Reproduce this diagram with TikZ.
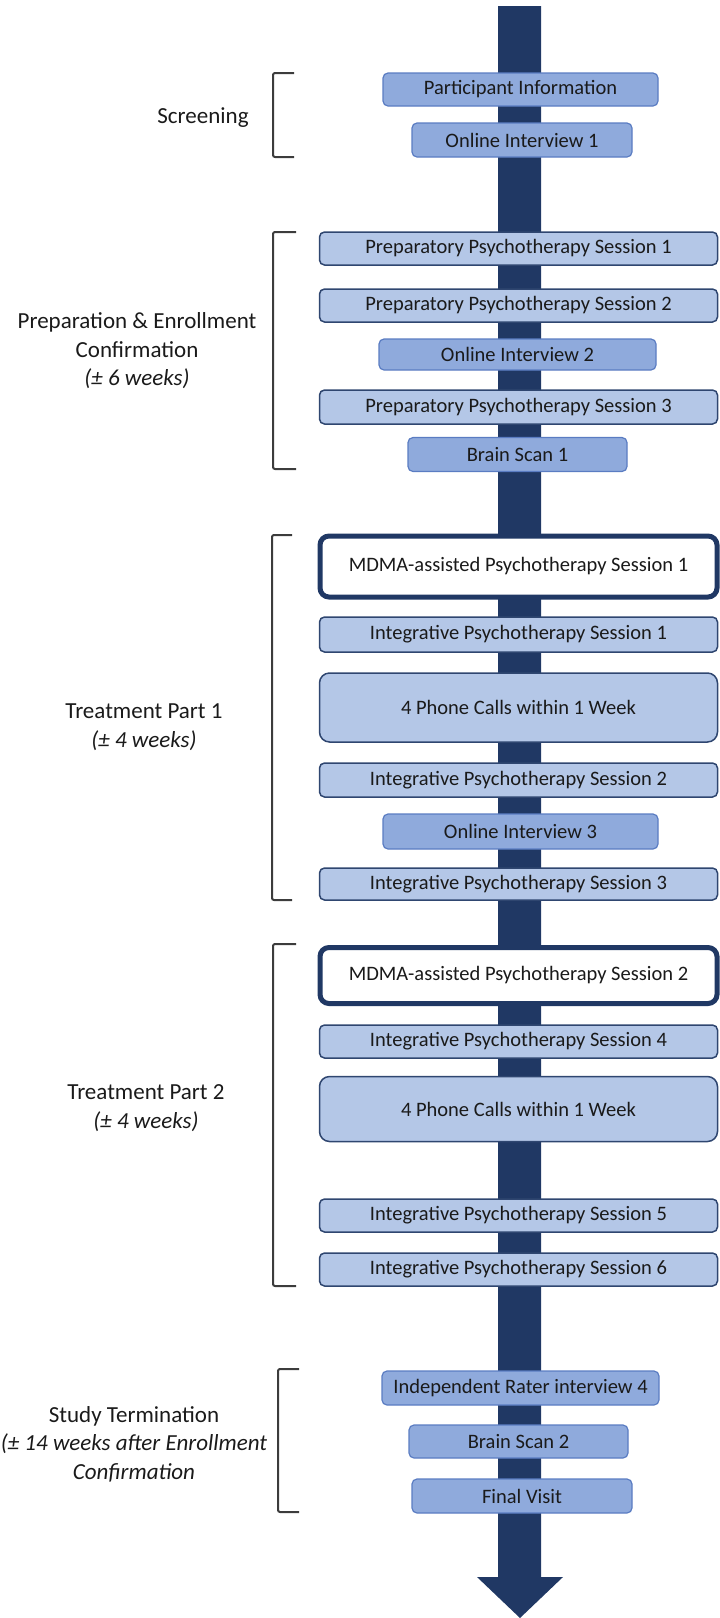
\documentclass[tikz,border=0pt]{standalone}
\usepackage{fontspec}
\setmainfont{Carlito}
\definecolor{navy}{HTML}{203864}
\definecolor{lightfill}{HTML}{B4C7E7}
\definecolor{darkfill}{HTML}{8FAADC}
\definecolor{lightedge}{HTML}{2F4670}
\definecolor{darkedge}{HTML}{5A7CC2}
\definecolor{txt}{HTML}{1A1A1A}
\definecolor{brk}{HTML}{3C3C3C}
\tikzset{
  every node/.style={text=txt},
  boxbase/.style={rounded corners=5pt, inner sep=0pt, font=\fontsize{20.5}{24}\selectfont},
  lightbox/.style={boxbase, fill=lightfill, draw=lightedge, line width=1.5pt},
  darkbox/.style={boxbase, fill=darkfill, draw=darkedge, line width=1.2pt},
  mdmabox/.style={boxbase, fill=white, draw=navy, line width=5pt, rounded corners=9pt},
  phonebox/.style={lightbox, rounded corners=10pt},
  grouplabel/.style={align=center, inner sep=0pt, font=\fontsize{23}{28.5}\selectfont},
  bracket/.style={draw=brk, line width=2pt, rounded corners=2pt}
}
\begin{document}
\begin{tikzpicture}[x=1pt, y=-1pt]
\useasboundingbox (0,0) rectangle (720,1618);
% timeline arrow
\fill[navy] (498,6) -- (541,6) -- (541,1577) -- (563,1577) -- (520,1618) -- (477,1577) -- (498,1577) -- cycle;

% Screening
\node[darkbox, minimum width=275, minimum height=33] (pi) at (520.5,89.5) {Participant Information};
\node[darkbox, minimum width=220, minimum height=34] (oi1) at (522,140) {Online Interview 1};
\draw[bracket] (294,73) -- (273,73) -- (273,157) -- (294,157);
\node[grouplabel] (lscr) at (203,118) {Screening};

% Preparation
\node[lightbox, minimum width=398, minimum height=33] (pp1) at (518.5,248.5) {Preparatory Psychotherapy Session 1};
\node[lightbox, minimum width=398, minimum height=33] (pp2) at (518.5,305.5) {Preparatory Psychotherapy Session 2};
\node[darkbox, minimum width=277, minimum height=31] (oi2) at (517.5,354.5) {Online Interview 2};
\node[lightbox, minimum width=398, minimum height=34] (pp3) at (518.5,407) {Preparatory Psychotherapy Session 3};
\node[darkbox, minimum width=219, minimum height=34] (bs1) at (517.5,454.5) {Brain Scan 1};
\draw[bracket] (296,232) -- (273,232) -- (273,469) -- (296,469);
\node[grouplabel] (lprep) at (137,351) {Preparation \& Enrollment\\Confirmation\\\textit{(± 6 weeks)}};

% Treatment Part 1
\node[mdmabox, minimum width=397, minimum height=61] (m1) at (518.5,566.5) {MDMA-assisted Psychotherapy Session 1};
\node[lightbox, minimum width=398, minimum height=35] (ip1) at (518.5,634.5) {Integrative Psychotherapy Session 1};
\node[phonebox, minimum width=398, minimum height=69] (ph1) at (518.5,707.5) {4 Phone Calls within 1 Week};
\node[lightbox, minimum width=398, minimum height=34] (ip2) at (518.5,780) {Integrative Psychotherapy Session 2};
\node[darkbox, minimum width=275, minimum height=35] (oi3) at (520.5,831.5) {Online Interview 3};
\node[lightbox, minimum width=398, minimum height=32] (ip3) at (518.5,884) {Integrative Psychotherapy Session 3};
\draw[bracket] (292,535) -- (272,535) -- (272,900) -- (292,900);
\node[grouplabel] (lt1) at (144,727) {Treatment Part 1\\\textit{(± 4 weeks)}};

% Treatment Part 2
\node[mdmabox, minimum width=397, minimum height=56] (m2) at (518.5,975.5) {MDMA-assisted Psychotherapy Session 2};
\node[lightbox, minimum width=398, minimum height=33] (ip4) at (518.5,1041.5) {Integrative Psychotherapy Session 4};
\node[phonebox, minimum width=398, minimum height=65] (ph2) at (518.5,1109) {4 Phone Calls within 1 Week};
\node[lightbox, minimum width=398, minimum height=33] (ip5) at (518.5,1215.5) {Integrative Psychotherapy Session 5};
\node[lightbox, minimum width=398, minimum height=33] (ip6) at (518.5,1269.5) {Integrative Psychotherapy Session 6};
\draw[bracket] (296,944) -- (273,944) -- (273,1286) -- (296,1286);
\node[grouplabel] (lt2) at (146,1108) {Treatment Part 2\\\textit{(± 4 weeks)}};

% Study Termination
\node[darkbox, minimum width=277, minimum height=34] (ir4) at (520.5,1388) {Independent Rater interview 4};
\node[darkbox, minimum width=219, minimum height=33] (bs2) at (518.5,1441.5) {Brain Scan 2};
\node[darkbox, minimum width=220, minimum height=34] (fv) at (522,1496) {Final Visit};
\draw[bracket] (299,1369) -- (278,1369) -- (278,1512) -- (299,1512);
\node[grouplabel] (lst) at (134,1444) {Study Termination\\\textit{(± 14 weeks after Enrollment}\\\textit{Confirmation}};
\end{tikzpicture}
\end{document}
